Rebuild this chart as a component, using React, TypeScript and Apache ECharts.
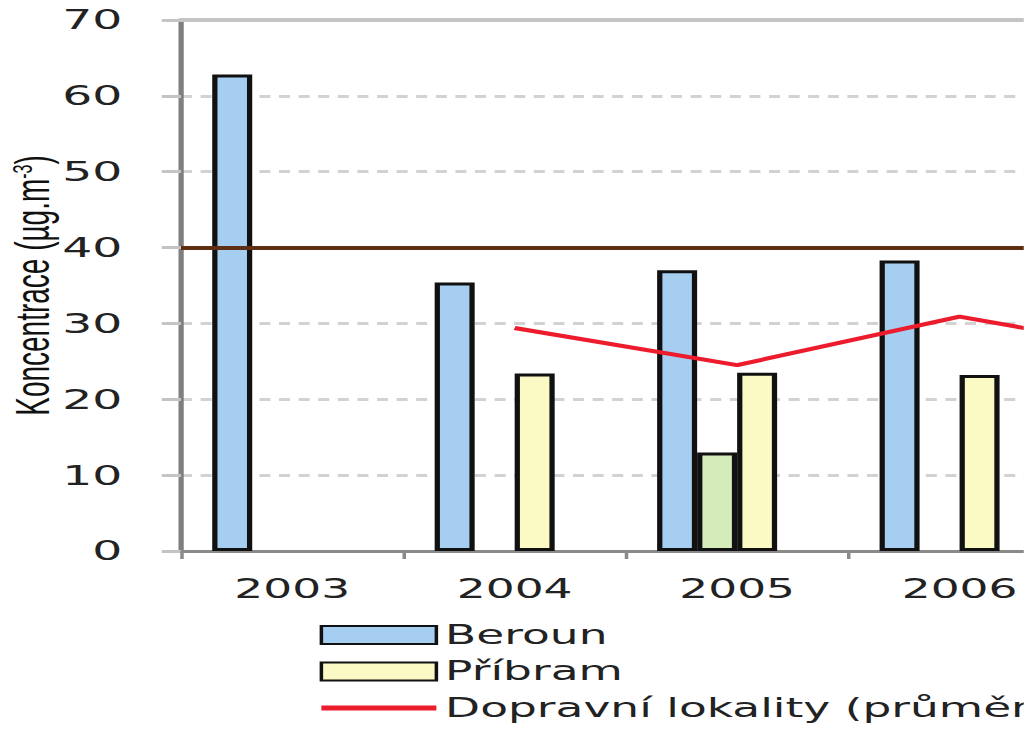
import React, { useEffect, useRef } from "react";
import * as echarts from "echarts";

const categories = ["2003", "2004", "2005", "2006", "2007"];
const beroun = [62.8, 35.4, 37.0, 38.3, null];
const stanice3 = [null, null, 13.0, null, null];
const pribram = [null, 23.4, 23.5, 23.2, null];
const stanice4 = [null, null, null, null, null];
const dopravni = [null, 29.4, 24.5, 30.9, 25.7];
const limit = 40;
const yTicks = { min: 0, max: 70, interval: 10 };

const S = 1.75; // horizontal stretch of the reference
const W = 1024 / S;

export default function App() {
  const ref = useRef<HTMLDivElement>(null);
  useEffect(() => {
    const chart = echarts.init(ref.current!, undefined, { renderer: "svg" });
    const barW = 40 / S;
    const barBase = {
      type: "bar",
      barWidth: barW,
      barGap: "0%",
      xAxisIndex: 0,
      itemStyle: { borderColor: "#111", borderWidth: 3 },
    };
    const left = 181 / S;
    const catW = 222.5 / S;
    chart.setOption({
      animation: false,
      backgroundColor: "#fff",
      grid: {
        left,
        top: 20,
        bottom: 193,
        right: W - left - catW * categories.length,
        containLabel: false,
        outerBoundsMode: "none",
      },
      legend: {
        orient: "vertical",
        left: 317 / S,
        top: 622,
        padding: 0,
        itemWidth: 115 / S,
        itemHeight: 18,
        itemGap: 10.5,
        icon: "rect",
        data: [
          "Beroun",
          "Příbram",
          {
            name: "Dopravní lokality (průměr)",
            icon: "inherit",
            itemStyle: { color: "rgba(0,0,0,0)", borderColor: "rgba(0,0,0,0)", borderWidth: 0 },
            lineStyle: { color: "#ec1c2c", width: 5, opacity: 1 },
          },
        ],
        textStyle: { fontFamily: "DejaVu Sans", fontSize: 26, color: "#222" },
      },
      xAxis: [
        {
          type: "category",
          data: categories,
          axisLine: { lineStyle: { color: "#8a8a8a", width: 3 } },
          axisTick: { show: true, length: 8, lineStyle: { color: "#8a8a8a", width: 2 } },
          axisLabel: { fontFamily: "DejaVu Sans", fontSize: 26, color: "#222", margin: 25 },
          splitLine: { show: false },
        },
        {
          type: "category",
          data: categories,
          position: "top",
          axisLine: { show: true, lineStyle: { color: "#c4c4c4", width: 4 } },
          axisTick: { show: false },
          axisLabel: { show: false },
        },
      ],
      yAxis: {
        type: "value",
        min: yTicks.min,
        max: yTicks.max,
        interval: yTicks.interval,
        name: "Koncentrace (µg.m{sup|-3})",
        nameLocation: "middle",
        nameGap: 71,
        nameMoveOverlap: false,
        nameRotate: 90,
        nameTextStyle: {
          fontFamily: "Liberation Sans",
          fontSize: 28,
          color: "#111",
          rich: { sup: { fontFamily: "Liberation Sans", fontSize: 16, color: "#111", verticalAlign: "top", padding: [0, 0, 12, 0] } },
        },
        axisLine: { show: true, lineStyle: { color: "#7f7f7f", width: 3 } },
        axisTick: { show: true, length: 11, lineStyle: { color: "#c4c4c4", width: 3 } },
        axisLabel: { fontFamily: "DejaVu Sans", fontSize: 27, color: "#222", margin: 33.5 },
        splitLine: { show: true, lineStyle: { color: "#d2d2d2", width: 3, type: [6.3, 4.9] } },
      },
      series: [
        {
          ...barBase,
          name: "Beroun",
          data: beroun,
          itemStyle: { ...barBase.itemStyle, color: "#a5cef0" },
          markLine: {
            silent: true,
            symbol: ["none", "none"],
            label: { show: false },
            lineStyle: { color: "#5e2f13", width: 4, type: "solid" },
            data: [{ yAxis: limit }],
          },
        },
        { ...barBase, name: "Stanice 3", data: stanice3, itemStyle: { ...barBase.itemStyle, color: "#d4ecba" } },
        { ...barBase, name: "Příbram", data: pribram, itemStyle: { ...barBase.itemStyle, color: "#fcfac4" } },
        { ...barBase, name: "Stanice 4", data: stanice4, itemStyle: { ...barBase.itemStyle, color: "#f5c89a" } },
        {
          type: "line",
          name: "Dopravní lokality (průměr)",
          data: dopravni,
          symbol: "none",
          connectNulls: false,
          lineStyle: { color: "#ec1c2c", width: 4 },
          itemStyle: { color: "#ec1c2c" },
          z: 5,
        },
      ],
    });
    return () => chart.dispose();
  }, []);
  return (
    <div
      ref={ref}
      style={{
        position: "fixed",
        left: 0,
        top: 0,
        width: W,
        height: 744,
        transform: `scaleX(${S})`,
        transformOrigin: "0 0",
        overflow: "hidden",
      }}
    />
  );
}
